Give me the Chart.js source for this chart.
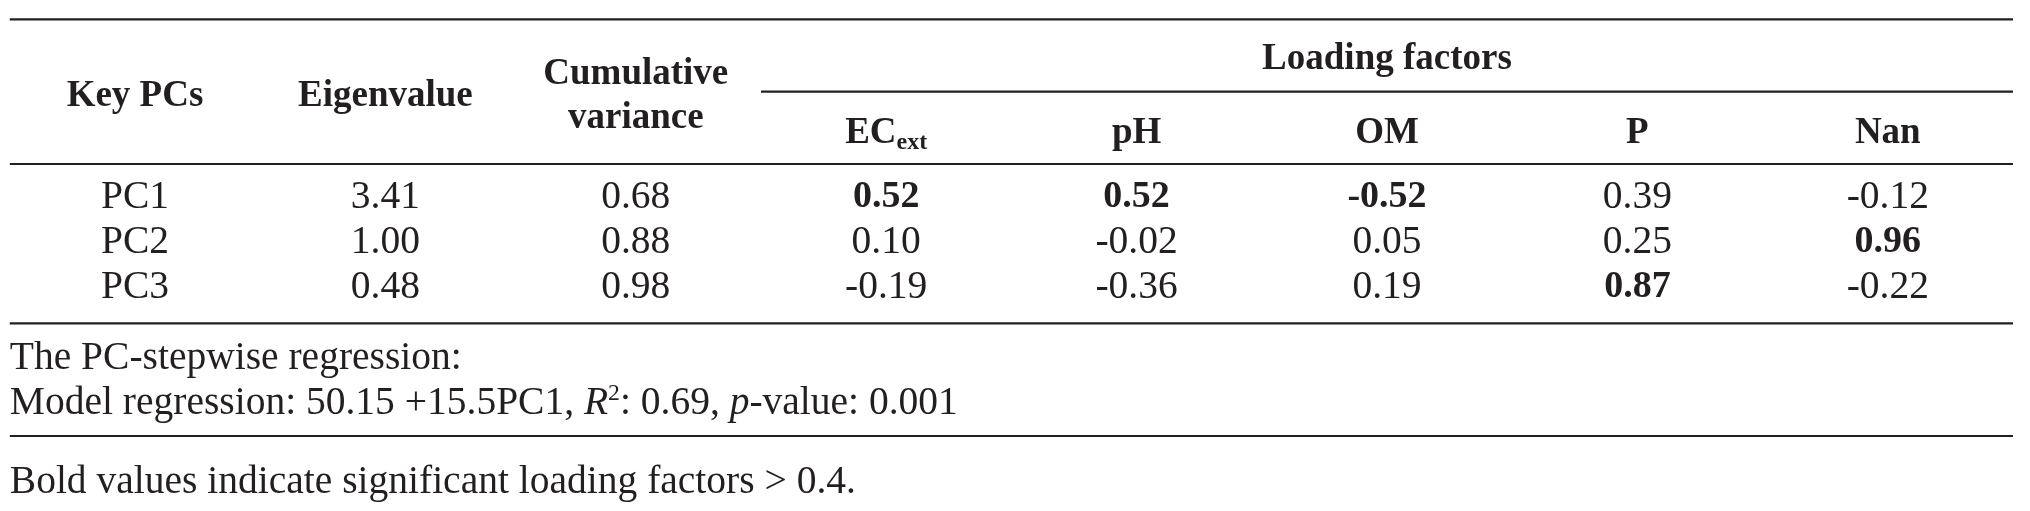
<!DOCTYPE html>
<html>
<head>
<meta charset="utf-8">
<script src="https://cdn.jsdelivr.net/npm/chart.js@4.4.1/dist/chart.umd.min.js"></script>
<style>
  html, body { margin: 0; padding: 0; background: #fff; }
  #wrap { width: 2030px; height: 511px; }
</style>
</head>
<body>
<div id="wrap"><canvas id="table" width="2030" height="511"></canvas></div>
<script>
// table contents
const keyPCs = ["PC1", "PC2", "PC3"];
const eigenvalues = [3.41, 1.00, 0.48];
const cumulativeVariance = [0.68, 0.88, 0.98];
const loadingVars = ["EC", "pH", "OM", "P", "Nan"];
const loadingSubs = ["ext", "", "", "", ""];
const loadEC = [0.52, 0.10, -0.19];
const loadPH = [0.52, -0.02, -0.36];
const loadOM = [-0.52, 0.05, 0.19];
const loadP = [0.39, 0.25, 0.87];
const loadNan = [-0.12, 0.96, -0.22];
const boldThreshold = 0.4;

const columns = [keyPCs, eigenvalues, cumulativeVariance, loadEC, loadPH, loadOM, loadP, loadNan];

// look
const INK = "#231f20";
const FONT = '"Liberation Serif", "Times New Roman", serif';
const BODY = 39.5;    // regular text
const BODY_BOLD = 38; // bold loadings
const HEAD = 37;      // bold header

function fontOf(seg, size) {
  return (seg.italic ? "italic " : "") + (seg.bold ? "bold " : "") + size + "px " + FONT;
}

// draw a run of text pieces (sub/superscripts, italics); y is the middle of the capitals
function drawRich(ctx, segs, x, y, align, size) {
  let w = 0;
  segs.forEach(s => {
    const sz = s.sub ? size * 0.65 : s.sup ? size * 0.6 : size;
    ctx.font = fontOf(s, sz);
    s._w = ctx.measureText(s.t).width;
    s._sz = sz;
    w += s._w;
  });
  let cx = align === "center" ? x - w / 2 : x;
  const base = y + size * 0.36;
  ctx.save();
  ctx.fillStyle = INK;
  ctx.textBaseline = "alphabetic";
  ctx.textAlign = "left";
  segs.forEach(s => {
    ctx.font = fontOf(s, s._sz);
    let dy = 0;
    if (s.sub) dy = size * 0.14;
    if (s.sup) dy = -size * 0.36;
    ctx.fillText(s.t, cx, base + dy);
    cx += s._w;
  });
  ctx.restore();
}

const fmt = v => typeof v === "number" ? v.toFixed(2) : v;

const tablePlugin = {
  id: "tableText",
  afterDatasetsDraw(chart) {
    const ctx = chart.ctx;
    const xs = chart.scales.x, ys = chart.scales.y;
    const X = v => xs.getPixelForValue(v), Y = v => ys.getPixelForValue(v);

    // rules: [row position, from column, to column]
    ctx.save();
    ctx.strokeStyle = INK;
    ctx.lineWidth = 2.2;
    [[-3.871, 0, 8], [-2.262, 3, 8], [-0.656, 0, 8], [2.884, 0, 8], [5.389, 0, 8]]
      .forEach(([y, a, b]) => {
        ctx.beginPath();
        ctx.moveTo(X(a), Y(y));
        ctx.lineTo(X(b), Y(y));
        ctx.stroke();
      });
    ctx.restore();

    // header
    drawRich(ctx, [{ t: "Key PCs", bold: true }], X(0.5), Y(-2.233), "center", HEAD);
    drawRich(ctx, [{ t: "Eigenvalue", bold: true }], X(1.5), Y(-2.233), "center", HEAD);
    drawRich(ctx, [{ t: "Cumulative", bold: true }], X(2.5), Y(-2.733), "center", HEAD);
    drawRich(ctx, [{ t: "variance", bold: true }], X(2.5), Y(-1.749), "center", HEAD);
    drawRich(ctx, [{ t: "Loading factors", bold: true }], X(5.5), Y(-3.056), "center", HEAD);
    loadingVars.forEach((name, i) => {
      const segs = [{ t: name, bold: true }];
      if (loadingSubs[i]) segs.push({ t: loadingSubs[i], bold: true, sub: true });
      drawRich(ctx, segs, X(3.5 + i), Y(-1.411), "center", HEAD);
    });

    // body cells, placed where Chart.js put each point
    columns.forEach((col, c) => {
      const meta = chart.getDatasetMeta(c);
      col.forEach((v, r) => {
        const pt = meta.data[r];
        const bold = c >= 3 && Math.abs(v) > boldThreshold;
        drawRich(ctx, [{ t: fmt(v), bold }], pt.x, pt.y, "center", bold ? BODY_BOLD : BODY);
      });
    });

    // notes
    drawRich(ctx, [{ t: "The PC-stepwise regression:" }], X(0), Y(3.589), "left", BODY);
    drawRich(ctx, [
      { t: "Model regression: 50.15 +15.5PC1, " },
      { t: "R", italic: true }, { t: "2", sup: true },
      { t: ": 0.69, " }, { t: "p", italic: true }, { t: "-value: 0.001" }
    ], X(0), Y(4.589), "left", BODY);
    drawRich(ctx, [{ t: "Bold values indicate significant loading factors > " + boldThreshold + "." }],
      X(0), Y(6.344), "left", BODY);
  }
};

new Chart(document.getElementById("table"), {
  type: "scatter",
  data: {
    datasets: columns.map((col, c) => ({
      label: "col" + c,
      data: col.map((v, r) => ({ x: c + 0.5, y: r })),
      pointRadius: 0,
      pointHoverRadius: 0
    }))
  },
  options: {
    responsive: false,
    animation: false,
    events: [],
    layout: { padding: 0 },
    plugins: { legend: { display: false }, tooltip: { enabled: false } },
    scales: {
      x: { type: "linear", display: false, min: -0.0391, max: 8.068 },
      y: { type: "linear", display: false, reverse: true, min: -4.3, max: 7.0556 }
    }
  },
  plugins: [tablePlugin]
});
</script>
</body>
</html>
